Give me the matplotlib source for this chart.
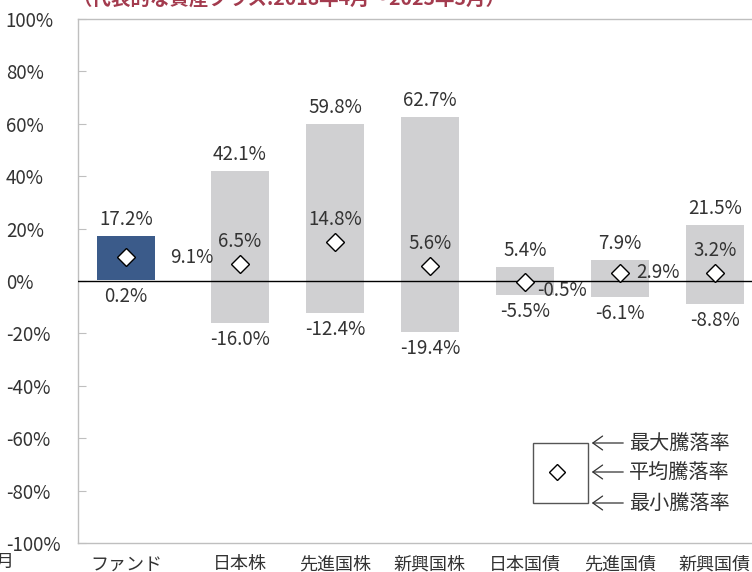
import matplotlib
matplotlib.use("Agg")
import matplotlib.pyplot as plt
from matplotlib.patches import Rectangle
import numpy as np

plt.rcParams["font.family"] = ["Noto Sans CJK JP", "DejaVu Sans"]

# data
categories = ["ファンド", "日本株", "先進国株", "新興国株", "日本国債", "先進国債", "新興国債"]
max_rate = [17.2, 42.1, 59.8, 62.7, 5.4, 7.9, 21.5]
min_rate = [0.2, -16.0, -12.4, -19.4, -5.5, -6.1, -8.8]
avg_rate = [9.1, 6.5, 14.8, 5.6, -0.5, 2.9, 3.2]
y_ticks = [100, 80, 60, 40, 20, 0, -20, -40, -60, -80, -100]
title = "（代表的な資産クラス:2018年4月～2023年3月）"
legend_labels = ["最大騰落率", "平均騰落率", "最小騰落率"]

TXT = "#333333"
GRID = "#bfbfbf"
W, H = 752, 572

# where the average label goes relative to the diamond (pixels)
avg_place = [(44, 0, "left", "center"), (0, 12, "center", "bottom"),
             (0, 12, "center", "bottom"), (0, 12, "center", "bottom"),
             (12, -8, "left", "center"), (16, 1, "left", "center"),
             (0, 12, "center", "bottom")]

x = np.r_[0, np.arange(1, 7) + 0.2]
colors = ["#3b5b8a"] + ["#d0d0d2"] * 6

fig = plt.figure(figsize=(W / 100, H / 100), dpi=100)
ax = fig.add_axes([78 / W, 1 - 543 / H, 1 - 78 / W, (543 - 19) / H])

heights = np.array(max_rate) - np.array(min_rate)
ax.bar(x, heights, bottom=min_rate, width=0.61, color=colors, zorder=2)
ax.axhline(0, color="black", lw=1, zorder=3)
ax.plot(x, avg_rate, "D", ms=9.5, mfc="white", mec="black", mew=1, zorder=4)

for i in range(len(categories)):
    ax.annotate(f"{max_rate[i]:.1f}%", (x[i], max_rate[i]), xytext=(0, 6),
                textcoords="offset pixels", ha="center", va="bottom",
                fontsize=13.5, color=TXT)
    ax.annotate(f"{min_rate[i]:.1f}%", (x[i], min_rate[i]), xytext=(0, -6),
                textcoords="offset pixels", ha="center", va="top",
                fontsize=13.5, color=TXT)
    dx, dy, ha, va = avg_place[i]
    ax.annotate(f"{avg_rate[i]:.1f}%", (x[i], avg_rate[i]), xytext=(dx, dy),
                textcoords="offset pixels", ha=ha, va=va,
                fontsize=13.5, color=TXT, zorder=5)

ax.set_ylim(-100, 100)
ax.set_xlim(-0.505, 6.59)
ax.set_yticks(y_ticks)
ax.set_yticklabels([f"{v}%" for v in y_ticks], ha="left", fontsize=13.5, color=TXT)
ax.tick_params(axis="y", direction="in", length=6, color=GRID, pad=52)
ax.set_xticks(x)
ax.set_xticklabels(categories, fontsize=13, color=TXT)
ax.tick_params(axis="x", length=0, pad=9)
for s in ["left", "top", "bottom"]:
    ax.spines[s].set_color(GRID)
    ax.spines[s].set_linewidth(1)
ax.spines["right"].set_visible(False)

# clipped title and stray label from the cropped source
fig.text(72 / W, 1 - 5 / H, title, fontsize=14, fontweight="bold",
         color="#a33b4e", ha="left", va="baseline")
fig.text(13 / W, 1 - 562 / H, "月", fontsize=13, color=TXT, ha="right", va="center")

# legend box
fig.patches.append(Rectangle((533 / W, 1 - 503 / H), 55 / W, 60 / H,
                             transform=fig.transFigure, fill=False,
                             edgecolor="#555555", lw=1))
fig.lines.append(plt.Line2D([557 / W], [1 - 472 / H], transform=fig.transFigure,
                            marker="D", ms=8, mfc="white", mec="black", mew=1))
for yy, lab in zip([443, 472, 503], legend_labels):
    fig.add_artist(matplotlib.patches.FancyArrowPatch(
        (626 / W, 1 - yy / H), (589 / W, 1 - yy / H), transform=fig.transFigure,
        arrowstyle="->,head_length=0.7,head_width=0.5", mutation_scale=10,
        color="#333333", lw=0.9))
    fig.text(629 / W, 1 - yy / H, lab, fontsize=14.5, color=TXT, ha="left", va="center")

fig.savefig("out.png", dpi=100)
